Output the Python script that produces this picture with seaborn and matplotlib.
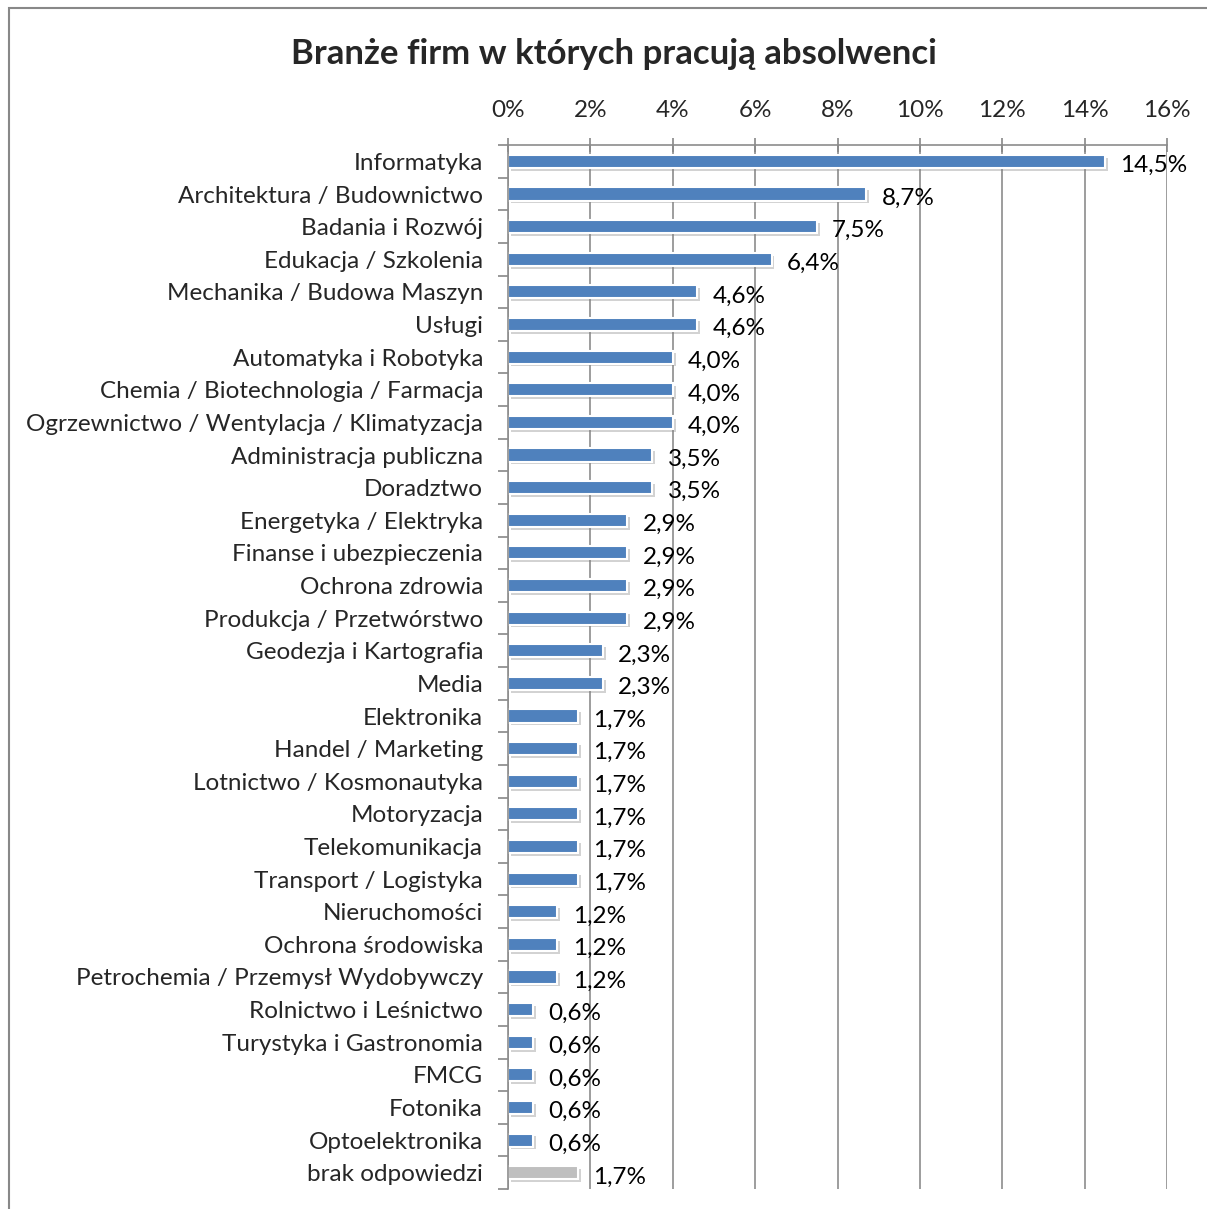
import numpy as np
import pandas as pd
import seaborn as sns
import matplotlib.pyplot as plt
import matplotlib.patheffects as pe
from matplotlib.patches import Rectangle

categories = [
    "Informatyka", "Architektura / Budownictwo", "Badania i Rozwój",
    "Edukacja / Szkolenia", "Mechanika / Budowa Maszyn", "Usługi",
    "Automatyka i Robotyka", "Chemia / Biotechnologia / Farmacja",
    "Ogrzewnictwo / Wentylacja / Klimatyzacja", "Administracja publiczna",
    "Doradztwo", "Energetyka / Elektryka", "Finanse i ubezpieczenia",
    "Ochrona zdrowia", "Produkcja / Przetwórstwo", "Geodezja i Kartografia",
    "Media", "Elektronika", "Handel / Marketing", "Lotnictwo / Kosmonautyka",
    "Motoryzacja", "Telekomunikacja", "Transport / Logistyka",
    "Nieruchomości", "Ochrona środowiska", "Petrochemia / Przemysł Wydobywczy",
    "Rolnictwo i Leśnictwo", "Turystyka i Gastronomia", "FMCG", "Fotonika",
    "Optoelektronika", "brak odpowiedzi",
]
values = [14.5, 8.7, 7.5, 6.4, 4.6, 4.6, 4.0, 4.0, 4.0, 3.5, 3.5,
          2.9, 2.9, 2.9, 2.9, 2.3, 2.3, 1.7, 1.7, 1.7, 1.7, 1.7, 1.7,
          1.2, 1.2, 1.2, 0.6, 0.6, 0.6, 0.6, 0.6, 1.7]
x_ticks = [0, 2, 4, 6, 8, 10, 12, 14, 16]

df = pd.DataFrame({"branza": categories, "udzial": values})
colors = ["#4F81BD"] * (len(categories) - 1) + ["#BFBFBF"]

sns.set_style("white")
plt.rcParams["font.family"] = ["Lato", "DejaVu Sans"]

fig = plt.figure(figsize=(12.07, 12.09), dpi=100)
ax = fig.add_axes([0.4209, 0.0165, 0.546, 0.8635])

sns.barplot(data=df, x="udzial", y="branza", hue="branza", palette=colors,
            legend=False, width=0.4, edgecolor="white", linewidth=1.5,
            saturation=1, orient="h", ax=ax)

for p in ax.patches:
    p.set_path_effects([pe.SimplePatchShadow(offset=(2, -2), alpha=0.35,
                                             shadow_rgbFace="#7f7f7f"),
                        pe.Normal()])

for i, v in enumerate(values):
    ax.annotate(f"{v:.1f}".replace(".", ",") + "%", (v, i),
                xytext=(11, -3), textcoords="offset points",
                ha="left", va="center", fontsize=17.5, color="black")

ax.set_xlim(0, 16)
ax.set_ylim(len(categories) - 0.5, -0.5)
ax.set_xticks(x_ticks)
ax.set_xticklabels([f"{t}%" for t in x_ticks], fontsize=17.5)
ax.xaxis.tick_top()
ax.set_xlabel("")
ax.set_ylabel("")
ax.tick_params(axis="x", top=True, direction="inout", length=10, width=1.2,
               color="#888888", pad=12)
ax.set_yticks(range(len(categories)))
ax.set_yticklabels(categories, fontsize=17.5)
ax.set_yticks(np.arange(-0.5, len(categories), 1), minor=True)
ax.tick_params(axis="y", which="major", left=False, length=0, pad=18)
ax.tick_params(axis="y", which="minor", left=True, direction="out",
               length=7, width=1.2, color="#888888")
ax.grid(axis="x", color="#8c8c8c", linewidth=1.2)
ax.set_axisbelow(True)
for side in ["bottom", "right"]:
    ax.spines[side].set_visible(False)
for side in ["top", "left"]:
    ax.spines[side].set_color("#8c8c8c")
    ax.spines[side].set_linewidth(1.2)

fig.text(0.509, 0.955, "Branże firm w których pracują absolwenci",
         ha="center", va="center", fontsize=25, fontweight="bold")

fig.patches.append(Rectangle((9 / 1207, -0.05), 1.1, 1 - 8 / 1209 + 0.05,
                             transform=fig.transFigure, fill=False,
                             edgecolor="#888888", linewidth=1.5))

fig.savefig("out.png", dpi=100)
